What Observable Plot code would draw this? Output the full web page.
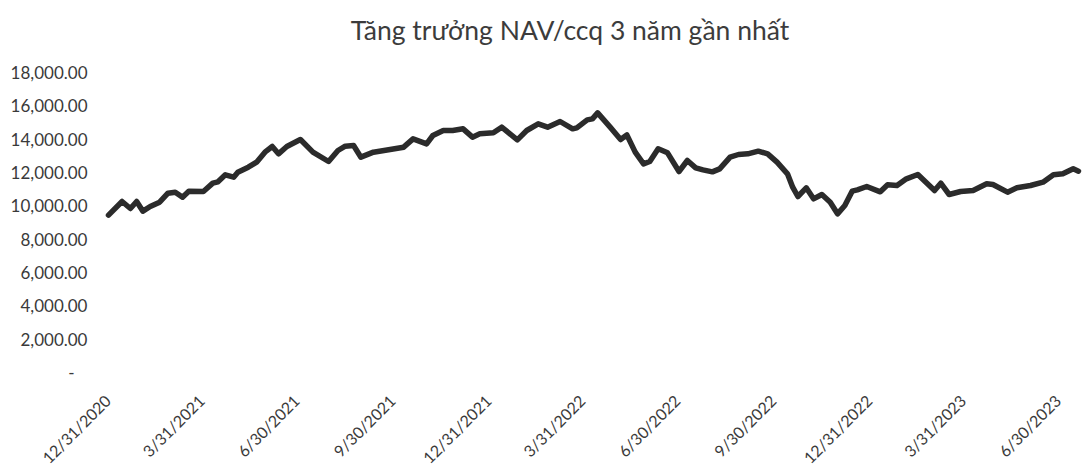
<!DOCTYPE html>
<html>
<head>
<meta charset="utf-8">
<script src="https://cdn.jsdelivr.net/npm/d3@7"></script>
<script src="https://cdn.jsdelivr.net/npm/@observablehq/plot@0.6"></script>
<style>
  html, body { margin: 0; padding: 0; background: #fff; }
  #wrap { width: 1084px; height: 472px; position: relative; overflow: hidden; }
  #title { height: 55px; line-height: 60px; text-align: center; font-family: Lato, "Open Sans", sans-serif;
           font-size: 26.5px; color: #3c3c3c; padding-left: 56px; box-sizing: border-box; }
</style>
</head>
<body>
<div id="wrap">
  <div id="title">Tăng trưởng NAV/ccq 3 năm gần nhất</div>
  <div id="chart"></div>
</div>
<script>
const dates = [
  "2020-12-31","2021-01-13","2021-01-21","2021-01-27","2021-02-02","2021-02-09","2021-02-18","2021-02-26",
  "2021-03-05","2021-03-12","2021-03-18","2021-04-01","2021-04-10","2021-04-15","2021-04-22","2021-04-30",
  "2021-05-04","2021-05-14","2021-05-22","2021-05-30","2021-06-06","2021-06-12","2021-06-20","2021-07-03",
  "2021-07-15","2021-07-30","2021-08-08","2021-08-15","2021-08-23","2021-08-30","2021-09-11","2021-09-27",
  "2021-10-10","2021-10-19","2021-11-01","2021-11-07","2021-11-17","2021-11-26","2021-12-06","2021-12-15",
  "2021-12-22","2022-01-04","2022-01-12","2022-01-27","2022-02-05","2022-02-16","2022-02-25","2022-03-09",
  "2022-03-21","2022-03-25","2022-04-04","2022-04-09","2022-04-14","2022-04-26","2022-05-06","2022-05-12",
  "2022-05-20","2022-05-28","2022-06-03","2022-06-11","2022-06-20","2022-07-01","2022-07-09","2022-07-17",
  "2022-07-24","2022-08-02","2022-08-09","2022-08-19","2022-08-27","2022-09-05","2022-09-15","2022-09-24",
  "2022-10-03","2022-10-13","2022-10-18","2022-10-23","2022-10-31","2022-11-07","2022-11-15","2022-11-23",
  "2022-11-30","2022-12-07","2022-12-14","2022-12-19","2022-12-28","2023-01-10","2023-01-17","2023-01-26",
  "2023-02-04","2023-02-15","2023-03-03","2023-03-09","2023-03-17","2023-03-28","2023-04-09","2023-04-22",
  "2023-04-28","2023-05-12","2023-05-21","2023-06-03","2023-06-15","2023-06-25","2023-07-04","2023-07-14",
  "2023-07-19"
];
const nav = [
  9500,10320,9900,10320,9740,10020,10280,10820,
  10880,10580,10940,10920,11420,11500,11920,11780,
  12080,12380,12680,13280,13620,13180,13620,14040,
  13280,12720,13380,13640,13680,12980,13280,13440,
  13580,14080,13780,14280,14580,14580,14680,14180,
  14380,14440,14780,14020,14580,14980,14780,15120,
  14680,14740,15220,15280,15640,14780,14040,14320,
  13280,12580,12720,13480,13240,12120,12780,12340,
  12220,12100,12280,12980,13140,13180,13340,13180,
  12680,11980,11180,10620,11140,10480,10740,10280,
  9580,10080,10940,11020,11220,10900,11320,11280,
  11680,11940,10980,11420,10740,10920,10980,11380,
  11340,10880,11140,11280,11480,11920,11980,12280,
  12140
];
const xTickLabels = ["12/31/2020","3/31/2021","6/30/2021","9/30/2021","12/31/2021","3/31/2022",
                     "6/30/2022","9/30/2022","12/31/2022","3/31/2023","6/30/2023"];
const yTicks = [0,2000,4000,6000,8000,10000,12000,14000,16000,18000];

const parse = d3.utcParse("%Y-%m-%d");
const data = dates.map((d, i) => ({date: parse(d), nav: nav[i]}));
const xTicks = xTickLabels.map(s => { const [m, d, y] = s.split("/").map(Number); return new Date(Date.UTC(y, m - 1, d)); });
const fmtNum = d3.format(",.2f");
const fmtDate = d => `${d.getUTCMonth() + 1}/${d.getUTCDate()}/${d.getUTCFullYear()}`;

const chart = Plot.plot({
  width: 1084,
  height: 417,
  marginTop: 18,
  marginBottom: 99,
  marginLeft: 108,
  marginRight: 5,
  style: {fontFamily: "Lato, 'Open Sans', sans-serif", fontSize: "16px", color: "#3a3a3a", background: "#fff"},
  x: {type: "utc", domain: [parse("2020-12-31"), parse("2023-07-20")], label: null},
  y: {domain: [0, 18000], label: null},
  marks: [
    Plot.axisY({ticks: yTicks, tickSize: 0, tickPadding: 21, fontSize: 17,
                tickFormat: d => d === 0 ? "-\u00A0\u00A0\u00A0" : fmtNum(d)}),
    Plot.axisX({ticks: xTicks, tickSize: 0, tickPadding: 22, tickRotate: -45, fontSize: 16, dy: 3,
                tickFormat: fmtDate}),
    Plot.line(data, {x: "date", y: "nav", stroke: "#2b2b2b", strokeWidth: 5.5, strokeLinejoin: "round", strokeLinecap: "round"})
  ]
});
document.getElementById("chart").appendChild(chart);
</script>
</body>
</html>
